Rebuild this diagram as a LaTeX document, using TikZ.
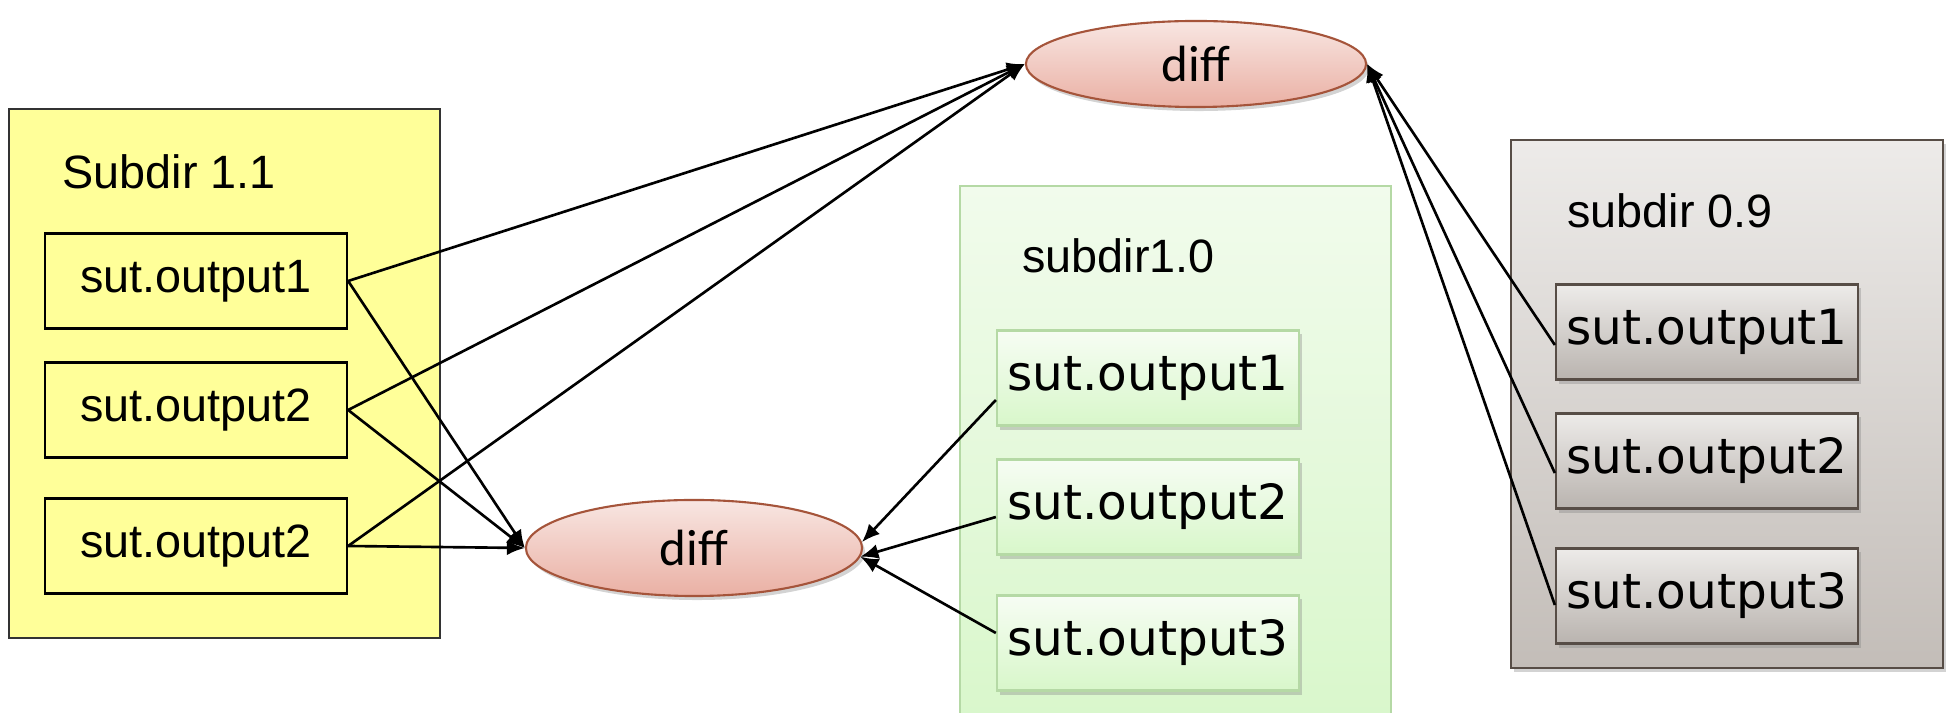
\documentclass[tikz,border=0pt]{standalone}
\usepackage{fontspec}
\setmainfont{Liberation Sans}
\newfontfamily\verafont{DejaVu Sans}
\newfontfamily\califont{Carlito}
\usetikzlibrary{arrows.meta,shapes.geometric,shadows}

\definecolor{newyellow}{HTML}{FFFF99}
\definecolor{oldgreentop}{HTML}{F1FBEC}
\definecolor{oldgreenbot}{HTML}{D8F7CA}
\definecolor{oldgreenline}{HTML}{B5D9A5}
\definecolor{oldergraytop}{HTML}{EDEBE9}
\definecolor{oldergraybot}{HTML}{C3BDB8}
\definecolor{oldergrayline}{HTML}{574D46}
\definecolor{difftop}{HTML}{F8E6E2}
\definecolor{diffbot}{HTML}{EAB0A4}
\definecolor{diffline}{HTML}{A5543A}

\tikzset{
  outbox/.style={draw, minimum width=3.02cm, minimum height=0.95cm, inner sep=0pt},
  arialtxt/.style={font=\fontsize{13.3}{16}\selectfont},
  veratxt/.style={font=\verafont\fontsize{13.8}{16}\selectfont},
  boxshadow/.style={drop shadow={opacity=0.35, shadow xshift=0.03cm, shadow yshift=-0.04cm}},
  diffnode/.style={ellipse, draw=diffline, line width=0.6pt, top color=difftop, bottom color=diffbot,
    boxshadow, inner sep=0pt, font=\califont\fontsize{14.5}{16}\selectfont},
  link/.style={-{Latex[length=0.18cm,width=0.15cm]}, line width=0.75pt}
}

\begin{document}
\begin{tikzpicture}[x=0.01cm,y=-0.01cm]
\useasboundingbox (0,0) rectangle (1947,713);

% panels
\draw[fill=newyellow, draw=black!80, line width=0.5pt] (9,109) rectangle (440,638);
\draw[top color=oldgreentop, bottom color=oldgreenbot, draw=oldgreenline, line width=0.6pt] (960,186) rectangle (1391,740);
\draw[top color=oldergraytop, bottom color=oldergraybot, draw=oldergrayline, line width=0.6pt, boxshadow] (1511,140) rectangle (1943,668);

\node[arialtxt, anchor=west] (ylabel) at (50,172) {Subdir 1.1};
\node[arialtxt, anchor=west] (glabel) at (1010,256) {subdir1.0};
\node[arialtxt, anchor=west] (rlabel) at (1555,211) {subdir 0.9};

% subdir 1.1
\node[outbox, arialtxt, fill=newyellow, line width=0.6pt] (y1) at (196,281) {sut.output1};
\node[outbox, arialtxt, fill=newyellow, line width=0.6pt] (y2) at (196,410) {sut.output2};
\node[outbox, arialtxt, fill=newyellow, line width=0.6pt] (y3) at (196,546) {sut.output2};

% subdir1.0
\foreach \i/\yy in {1/378,2/507,3/643}
  \node[outbox, veratxt, draw=oldgreenline, top color=oldgreentop!60!white, bottom color=oldgreenbot, boxshadow, line width=0.6pt]
    (g\i) at (1148,\yy) {sut.output\i};

% subdir 0.9
\foreach \i/\yy in {1/332,2/461,3/596}
  \node[outbox, veratxt, draw=oldergrayline, top color=oldergraytop, bottom color=oldergraybot!95!black, boxshadow, line width=0.6pt]
    (r\i) at (1707,\yy) {sut.output\i};

% diffs
\node[diffnode, minimum width=3.4cm, minimum height=0.86cm] (tdiff) at (1196,64) {diff};
\node[diffnode, minimum width=3.36cm, minimum height=0.96cm] (bdiff) at (694,548) {diff};

% connectors
\draw[link] (y1.east) -- (tdiff.west);
\draw[link] (y2.east) -- (tdiff.west);
\draw[link] (y3.east) -- (tdiff.west);
\draw[link] (y1.east) -- (bdiff.west);
\draw[link] (y2.east) -- (bdiff.west);
\draw[link] (y3.east) -- (bdiff.west);

\draw[link] ([yshift=-0.22cm]g1.west) -- (bdiff.2);
\draw[link] ([yshift=-0.1cm]g2.west) -- (bdiff.-3);
\draw[link] ([yshift=0.1cm]g3.west) -- (bdiff.-3);

\draw[link] ([yshift=-0.13cm]r1.west) -- (tdiff.east);
\draw[link] ([yshift=-0.12cm]r2.west) -- (tdiff.east);
\draw[link] ([yshift=-0.09cm]r3.west) -- (tdiff.east);
\end{tikzpicture}
\end{document}
